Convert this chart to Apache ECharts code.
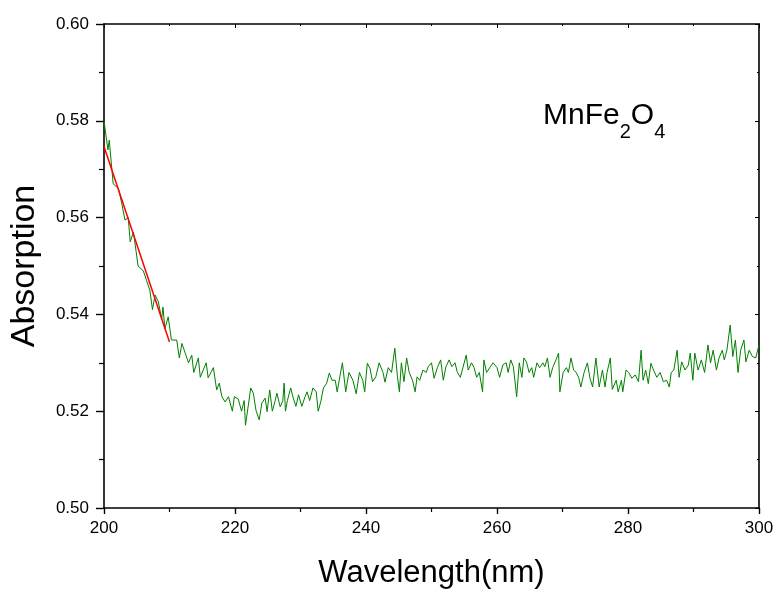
<!DOCTYPE html>
<html>
<head>
<meta charset="utf-8">
<script src="https://cdn.jsdelivr.net/npm/echarts@6/dist/echarts.min.js"></script>
<style>
html,body{margin:0;padding:0;background:#fff;}
#chart{width:779px;height:592px;}
</style>
</head>
<body>
<div id="chart"></div>
<script>
// Wavelength (nm) of each measured point
const wavelength = [
200.0,200.6,200.8,201.4,202.2,202.7,203.2,203.7,204.0,204.5,204.9,205.2,206.0,206.5,207.0,207.4,207.8,208.3,208.8,209.0,209.3,209.8,210.3,211.1,211.5,211.9,212.4,212.9,213.4,213.7,214.4,214.7,215.6,215.9,216.7,217.2,217.6,218.0,218.5,219.0,219.6,219.9,
220.2,220.5,221.0,221.4,221.6,222.0,222.4,222.8,223.2,223.7,224.1,224.6,224.9,225.3,225.7,226.1,226.4,226.9,227.3,227.5,227.7,228.0,228.5,228.9,229.3,229.7,230.2,230.7,231.0,231.4,231.9,232.4,232.7,233.1,233.5,234.0,234.4,234.8,235.3,235.6,236.0,236.4,236.9,237.4,238.0,238.5,239.0,239.5,
239.8,240.2,240.6,241.0,241.5,242.0,242.6,242.9,243.4,243.9,244.4,244.8,245.1,245.4,245.8,246.2,246.6,247.1,247.5,247.8,248.2,248.7,249.2,249.5,250.0,250.4,250.9,251.4,251.8,252.2,252.7,253.1,253.6,253.9,254.4,254.8,255.3,255.6,256.1,256.5,256.9,257.3,257.8,258.0,258.4,258.9,259.4,
260.0,260.4,260.9,261.4,261.7,262.1,262.5,263.0,263.4,263.8,264.1,264.5,264.9,265.3,265.6,266.1,266.5,267.0,267.3,267.7,268.1,268.5,269.0,269.4,269.6,270.1,270.6,270.9,271.3,271.7,272.1,272.5,272.8,273.3,273.8,274.2,274.6,275.1,275.6,276.1,276.5,276.8,277.3,277.6,278.2,278.5,
279.0,279.2,279.7,280.1,280.6,281.1,281.6,282.0,282.3,282.7,283.1,283.5,283.9,284.4,284.9,285.4,285.9,286.3,286.6,287.0,287.5,287.8,288.2,288.7,289.2,289.5,289.9,290.2,290.7,291.2,291.7,292.2,292.6,293.0,293.5,293.9,294.4,294.7,295.1,295.6,296.0,296.4,296.8,297.2,297.7,298.0,298.5,299.0,299.5,300.0
];
// Absorption
const absorption = [
0.5800,0.5740,0.5760,0.5670,0.5660,0.5630,0.5595,0.5600,0.5550,0.5570,0.5530,0.5500,0.5490,0.5470,0.5450,0.5410,0.5440,0.5426,0.5390,0.5415,0.5370,0.5395,0.5347,0.5347,0.5310,0.5340,0.5320,0.5300,0.5316,0.5280,0.5310,0.5270,0.5300,0.5269,0.5290,0.5244,0.5258,0.5230,0.5219,0.5230,0.5200,0.5230,
0.5227,0.5225,0.5200,0.5222,0.5171,0.5209,0.5248,0.5237,0.5202,0.5182,0.5217,0.5227,0.5199,0.5244,0.5200,0.5220,0.5237,0.5209,0.5222,0.5258,0.5200,0.5222,0.5248,0.5227,0.5210,0.5234,0.5210,0.5230,0.5240,0.5222,0.5248,0.5240,0.5200,0.5220,0.5248,0.5258,0.5279,0.5264,0.5264,0.5240,0.5271,0.5300,0.5240,0.5280,0.5264,0.5236,0.5280,0.5264,
0.5240,0.5299,0.5289,0.5261,0.5271,0.5300,0.5280,0.5260,0.5290,0.5280,0.5330,0.5271,0.5240,0.5300,0.5261,0.5310,0.5280,0.5264,0.5240,0.5271,0.5264,0.5285,0.5280,0.5292,0.5300,0.5268,0.5290,0.5306,0.5264,0.5292,0.5306,0.5292,0.5300,0.5282,0.5270,0.5290,0.5316,0.5285,0.5300,0.5290,0.5270,0.5280,0.5240,0.5306,0.5280,0.5290,0.5300,
0.5290,0.5270,0.5296,0.5300,0.5280,0.5306,0.5292,0.5230,0.5300,0.5270,0.5310,0.5302,0.5280,0.5290,0.5270,0.5300,0.5290,0.5300,0.5292,0.5310,0.5270,0.5290,0.5306,0.5320,0.5240,0.5280,0.5290,0.5280,0.5310,0.5285,0.5280,0.5268,0.5250,0.5280,0.5300,0.5268,0.5250,0.5310,0.5250,0.5285,0.5250,0.5280,0.5310,0.5245,0.5264,0.5240,
0.5264,0.5240,0.5285,0.5280,0.5268,0.5275,0.5261,0.5326,0.5264,0.5285,0.5257,0.5299,0.5285,0.5270,0.5280,0.5261,0.5264,0.5250,0.5280,0.5285,0.5326,0.5270,0.5302,0.5285,0.5295,0.5320,0.5264,0.5320,0.5285,0.5306,0.5280,0.5337,0.5300,0.5326,0.5285,0.5310,0.5326,0.5306,0.5326,0.5378,0.5313,0.5347,0.5280,0.5326,0.5347,0.5302,0.5326,0.5313,0.5310,0.5337
];
// Linear fit (red) end points
const fitX = [200.0, 210.0];
const fitY = [0.5747, 0.5343];
// Axis ticks
const xTicks = [200, 220, 240, 260, 280, 300];
const yTicks = ['0.50','0.52','0.54','0.56','0.58','0.60'];

const lineData = wavelength.map((w, i) => [w, absorption[i]]);
const fitData = fitX.map((w, i) => [w, fitY[i]]);

const chart = echarts.init(document.getElementById('chart'), null, {renderer: 'canvas'});
const FONT = 'Liberation Sans, Arial, sans-serif';
const axisLine = {show: true, onZero: false, lineStyle: {color: '#000', width: 1.6}};

chart.setOption({
  animation: false,
  backgroundColor: '#fff',
  grid: {left: 104, right: 20, top: 24, bottom: 84, containLabel: false, outerBoundsMode: 'none'},
  xAxis: [{
    type: 'value', min: xTicks[0], max: xTicks[xTicks.length - 1], interval: 20,
    axisLine: axisLine,
    axisTick: {show: true, inside: false, length: 6, lineStyle: {color: '#000', width: 1.4}},
    minorTick: {show: true, splitNumber: 2, length: 4, lineStyle: {color: '#000', width: 1.2}},
    splitLine: {show: false},
    axisLabel: {color: '#000', fontSize: 17, fontFamily: FONT, margin: 12},
    name: 'Wavelength(nm)', nameLocation: 'middle', nameGap: 50,
    nameTextStyle: {color: '#000', fontSize: 31, fontFamily: FONT}
  }, {
    type: 'value', position: 'top', min: 200, max: 300, interval: 20,
    axisLine: axisLine,
    axisTick: {show: true, inside: true, length: 4, lineStyle: {color: '#000', width: 1}},
    minorTick: {show: true, splitNumber: 2, length: 2, lineStyle: {color: '#000', width: 1}},
    axisLabel: {show: false}, splitLine: {show: false}
  }],
  yAxis: [{
    type: 'value', min: 0.5, max: 0.6, interval: 0.02,
    axisLine: axisLine,
    axisTick: {show: true, inside: false, length: 8, lineStyle: {color: '#000', width: 1.4}},
    minorTick: {show: true, splitNumber: 2, length: 5, lineStyle: {color: '#000', width: 1.2}},
    splitLine: {show: false},
    axisLabel: {color: '#000', fontSize: 17, fontFamily: FONT, margin: 15,
      formatter: v => yTicks.find(t => Math.abs(parseFloat(t) - v) < 1e-6) || v.toFixed(2)},
    name: 'Absorption', nameLocation: 'middle', nameGap: 62, nameRotate: 90,
    nameTextStyle: {color: '#000', fontSize: 34, fontFamily: FONT}
  }, {
    type: 'value', position: 'right', min: 0.5, max: 0.6, interval: 0.02,
    axisLine: axisLine,
    axisTick: {show: true, inside: true, length: 4, lineStyle: {color: '#000', width: 1}},
    minorTick: {show: true, splitNumber: 2, length: 2, lineStyle: {color: '#000', width: 1}},
    axisLabel: {show: false}, splitLine: {show: false}
  }],
  series: [{
    type: 'line', data: lineData, showSymbol: false, symbol: 'none',
    lineStyle: {color: '#008000', width: 1}, z: 2
  }, {
    type: 'line', data: fitData, showSymbol: false, symbol: 'none',
    lineStyle: {color: '#ff0000', width: 1.5}, z: 3
  }],
  graphic: [{
    type: 'text', left: 543, top: 101,
    style: {
      text: '{m|MnFe}{s|2}{m|O}{s|4}',
      rich: {
        m: {fontSize: 30, fontFamily: FONT, fill: '#000', lineHeight: 32, verticalAlign: 'top'},
        s: {fontSize: 20, fontFamily: FONT, fill: '#000', lineHeight: 20, verticalAlign: 'top', padding: [21, 0, 0, 0]}
      }
    }
  }]
});
</script>
</body>
</html>
